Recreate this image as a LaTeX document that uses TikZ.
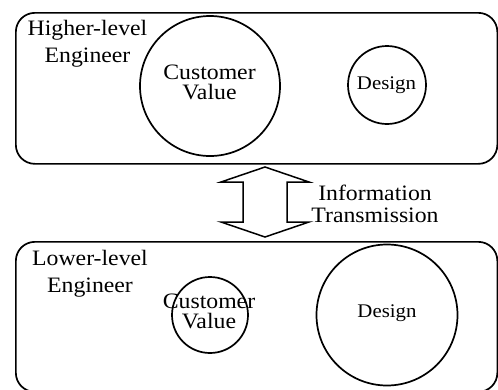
\documentclass[tikz,border=0pt]{standalone}
\usepackage{fontspec}
\setmainfont{Liberation Serif}[FakeStretch=1.08]
\begin{document}
\begin{tikzpicture}[x=1pt, y=-1pt,
  panel/.style={draw, line width=1.7pt, rounded corners=19pt, anchor=north west,
                minimum width=481.5pt, inner sep=0pt},
  ring/.style={draw, circle, line width=1.7pt, inner sep=0pt},
  lbl/.style={align=center, inner sep=0pt, font=\fontsize{22}{27}\selectfont},
  inlbl/.style={align=center, inner sep=0pt, font=\fontsize{22}{20}\selectfont},
  small/.style={inner sep=0pt, font=\fontsize{19.3}{22}\selectfont},
  fatarrow/.style={draw, line width=1.5pt, line join=miter}]
\useasboundingbox (0,0) rectangle (498,389);
\clip (0,0) rectangle (498,389);

% two engineer panels
\node[panel, minimum height=151pt] (upper) at (15,12) {};
\node[panel, minimum height=150pt] (lower) at (15,241) {};

% panel titles
\node[lbl] (hiTitle) at (87.5,44) {Higher-level\\Engineer};
\node[lbl] (loTitle) at (90,273.4) {Lower-level\\Engineer};

% circles of the higher-level engineer
\node[ring, minimum size=140pt] (cvHi) at (210,86) {};
\node[ring, minimum size=78pt] (dHi) at (387,85) {};
\node[inlbl] (cvHiText) at (209.5,82.5) {Customer\\Value};
\node[small] (dHiText) at (386.5,84.7) {Design};

% circles of the lower-level engineer
\node[ring, minimum size=76pt] (cvLo) at (210,315) {};
\node[ring, minimum size=141pt] (dLo) at (387,315) {};
\node[inlbl] (cvLoText) at (209,311.5) {Customer\\Value};
\node[small] (dLoText) at (387,313.5) {Design};

% two-way block arrow between the panels
\coordinate (tipUp) at (265,167);
\coordinate (tipDown) at (265,237);
\draw[fatarrow] (tipUp) -- (309,182) -- (287,182) -- (287,222) -- (309,222)
  -- (tipDown) -- (221,222) -- (243,222) -- (243,182) -- (221,182) -- cycle;
\node[lbl, font=\fontsize{22}{22}\selectfont] (info) at (375,203.5) {Information\\Transmission};
\end{tikzpicture}
\end{document}
